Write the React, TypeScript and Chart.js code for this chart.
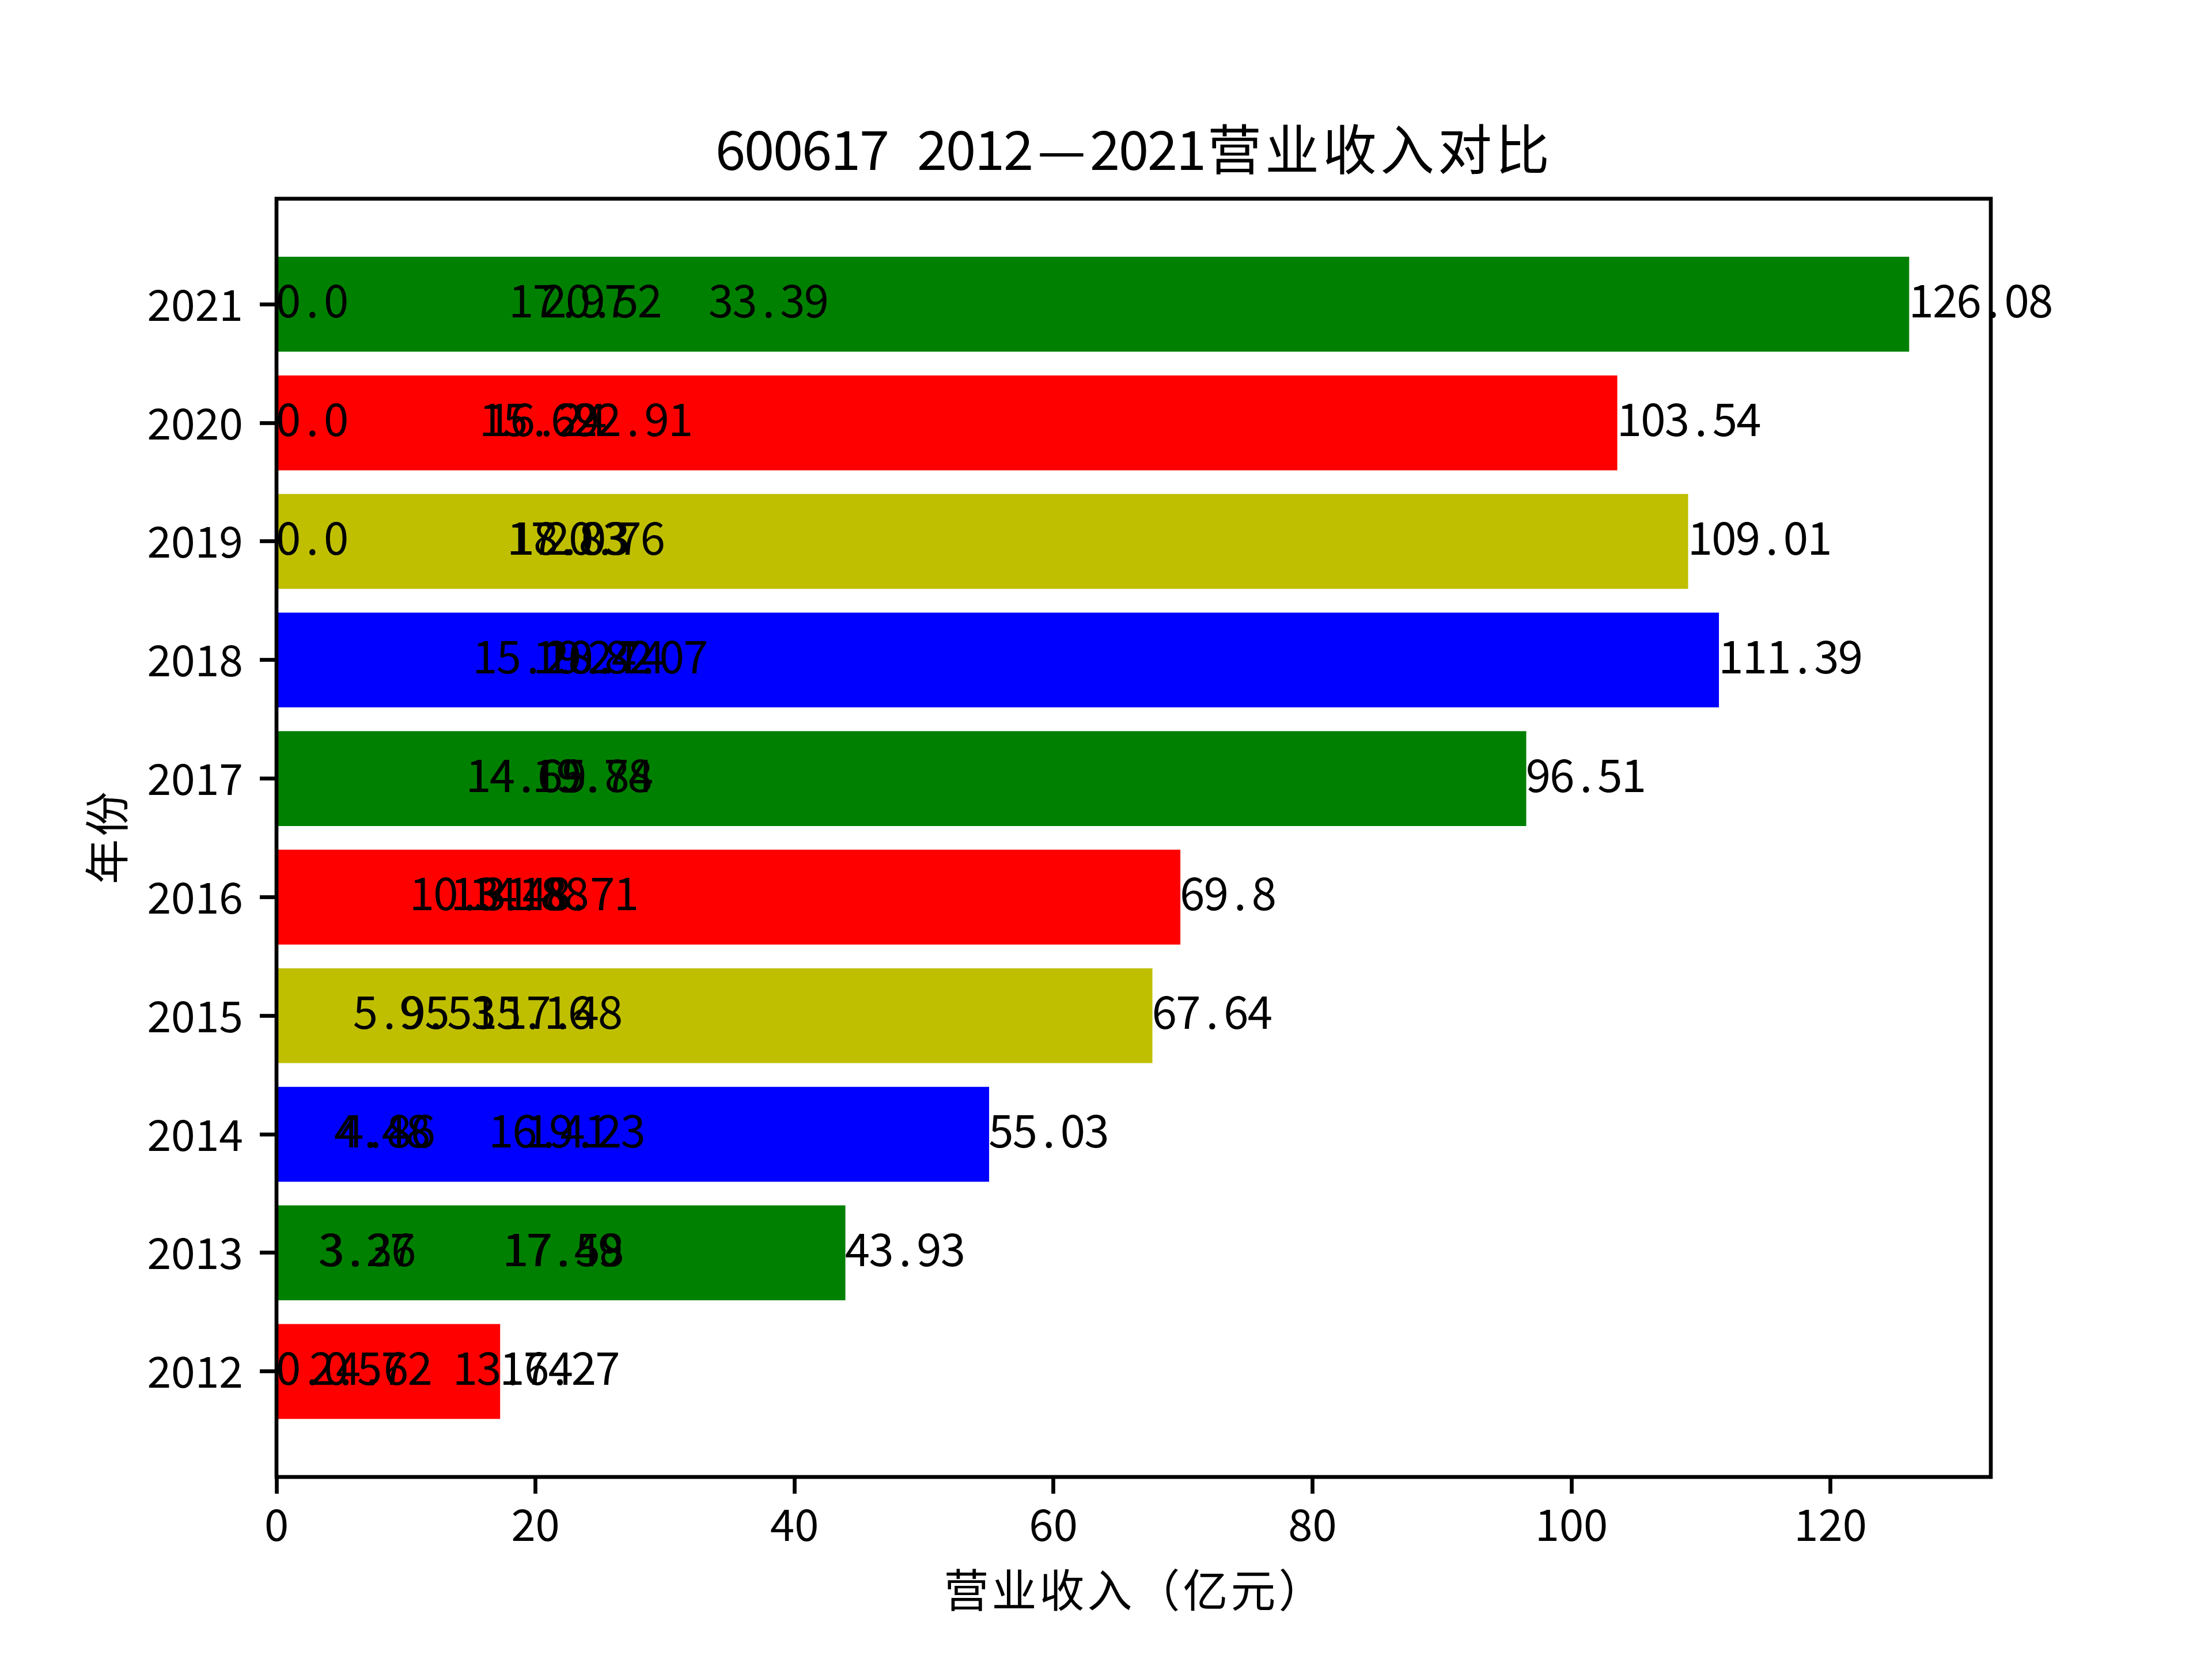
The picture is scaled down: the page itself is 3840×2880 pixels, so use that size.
import React, { useEffect, useRef } from "react";
import { Chart, registerables } from "chart.js";

Chart.register(...registerables);

// ---- data ----
const years = ["2012", "2013", "2014", "2015", "2016", "2017", "2018", "2019", "2020", "2021"];
const totals = [17.27, 43.93, 55.03, 67.64, 69.8, 96.51, 111.39, 109.01, 103.54, 126.08];
const partA = [0.0, 3.27, 4.48, 5.95, 10.31, 14.65, 15.18, 0.0, 0.0, 0.0];
const partB = [2.57, 3.36, 4.86, 9.53, 13.48, 14.69, 19.82, 17.83, 15.69, 17.97];
const partC = [4.62, 17.49, 16.41, 15.16, 14.88, 19.78, 20.74, 18.03, 16.24, 20.52];
const partD = [13.64, 17.58, 19.23, 17.48, 18.71, 19.84, 24.07, 20.76, 22.91, 33.39];
const barColors = ["#ff0000", "#008000", "#0000ff", "#bfbf00", "#ff0000", "#008000", "#0000ff", "#bfbf00", "#ff0000", "#008000"];
const xTicks = [0, 20, 40, 60, 80, 100, 120];
const titleText = "600617 2012—2021营业收入对比";
const xTitle = "营业收入（亿元）";
const yTitle = "年份";

const FONT = "'Noto Sans CJK SC', 'Noto Sans', sans-serif";

function fmt(v: number): string {
  return Number.isInteger(v) ? v.toFixed(1) : String(v);
}

// draw text in SimHei-like fixed cells (half width for ASCII, full width otherwise)
function drawCells(ctx: CanvasRenderingContext2D, text: string, x: number, y: number, em: number, align: "left" | "center") {
  const chars = Array.from(text);
  const widths = chars.map((c) => (c.charCodeAt(0) < 0x2000 ? em * 0.5 : em));
  const total = widths.reduce((a, b) => a + b, 0);
  let cx = align === "left" ? x : x - total / 2;
  ctx.save();
  ctx.font = `${Math.round(em * 0.94)}px ${FONT}`;
  ctx.textAlign = "center";
  ctx.textBaseline = "alphabetic";
  ctx.fillStyle = "#000";
  chars.forEach((c, i) => {
    ctx.fillText(c, cx + widths[i] / 2, y);
    cx += widths[i];
  });
  ctx.restore();
}

const decorPlugin = {
  id: "decor",
  afterDatasetsDraw(chart: any) {
    const ctx = chart.ctx as CanvasRenderingContext2D;
    const xs = chart.scales.x;
    const ys = chart.scales.y;
    const em = 83;
    years.forEach((_, i) => {
      const yc = ys.getPixelForValue(i) + 23;
      [partA[i], partB[i], partC[i], partD[i]].forEach((v) => {
        drawCells(ctx, fmt(v), xs.getPixelForValue(v), yc, em, "left");
      });
      drawCells(ctx, fmt(totals[i]), xs.getPixelForValue(totals[i]), yc, em, "left");
    });
  },
  afterDraw(chart: any) {
    const ctx = chart.ctx as CanvasRenderingContext2D;
    const a = chart.chartArea;
    ctx.save();
    ctx.strokeStyle = "#000";
    ctx.lineWidth = 6.7;
    ctx.strokeRect(a.left, a.top, a.right - a.left, a.bottom - a.top);
    ctx.restore();
    const cx = (a.left + a.right) / 2;
    drawCells(ctx, titleText, cx, 295, 100, "center");
    drawCells(ctx, xTitle, cx, 2790, 83, "center");
    ctx.save();
    ctx.translate(215, (a.top + a.bottom) / 2);
    ctx.rotate(-Math.PI / 2);
    drawCells(ctx, yTitle, 0, 0, 83, "center");
    ctx.restore();
  },
};

export default function App() {
  const ref = useRef<HTMLCanvasElement | null>(null);
  useEffect(() => {
    document.body.style.margin = "0";
    const canvas = ref.current!;
    const gridOpts = {
      drawOnChartArea: false,
      drawTicks: true,
      tickLength: 29,
      tickWidth: 6.7,
      tickColor: "#000",
      offset: false,
    };
    const chart = new Chart(canvas, {
      type: "bar",
      data: {
        datasets: [
          {
            data: years.map((_, i) => ({ x: totals[i], y: i })),
            backgroundColor: barColors,
            borderWidth: 0,
            barPercentage: 0.8,
            categoryPercentage: 1.0,
          } as any,
        ],
      },
      options: {
        indexAxis: "y",
        responsive: false,
        animation: false,
        devicePixelRatio: 1,
        layout: { padding: { top: 345, right: 384, left: 0, bottom: 0 } },
        plugins: {
          legend: { display: false },
          tooltip: { enabled: false },
          title: { display: false },
        },
        scales: {
          x: {
            type: "linear",
            position: "bottom",
            min: 0,
            max: 132.384,
            offset: false,
            afterBuildTicks: (s: any) => {
              s.ticks = xTicks.map((v) => ({ value: v }));
            },
            afterFit: (s: any) => {
              s.height = 316;
            },
            grid: gridOpts,
            border: { display: false },
            ticks: {
              font: { family: FONT, size: 76 },
              color: "#000",
              padding: 8,
              maxRotation: 0,
              autoSkip: false,
            },
          },
          y: {
            type: "linear",
            position: "left",
            min: -0.89,
            max: 9.89,
            offset: false,
            afterBuildTicks: (s: any) => {
              s.ticks = years.map((_, i) => ({ value: i }));
            },
            afterFit: (s: any) => {
              s.width = 480;
            },
            grid: gridOpts,
            border: { display: false },
            ticks: {
              font: { family: FONT, size: 75 },
              color: "#000",
              padding: 29,
              autoSkip: false,
              callback: (v: any) => years[Math.round(Number(v))],
            },
          },
        },
      } as any,
      plugins: [decorPlugin],
    });
    return () => chart.destroy();
  }, []);
  return <canvas ref={ref} width={3840} height={2880} style={{ display: "block", background: "#fff" }} />;
}
